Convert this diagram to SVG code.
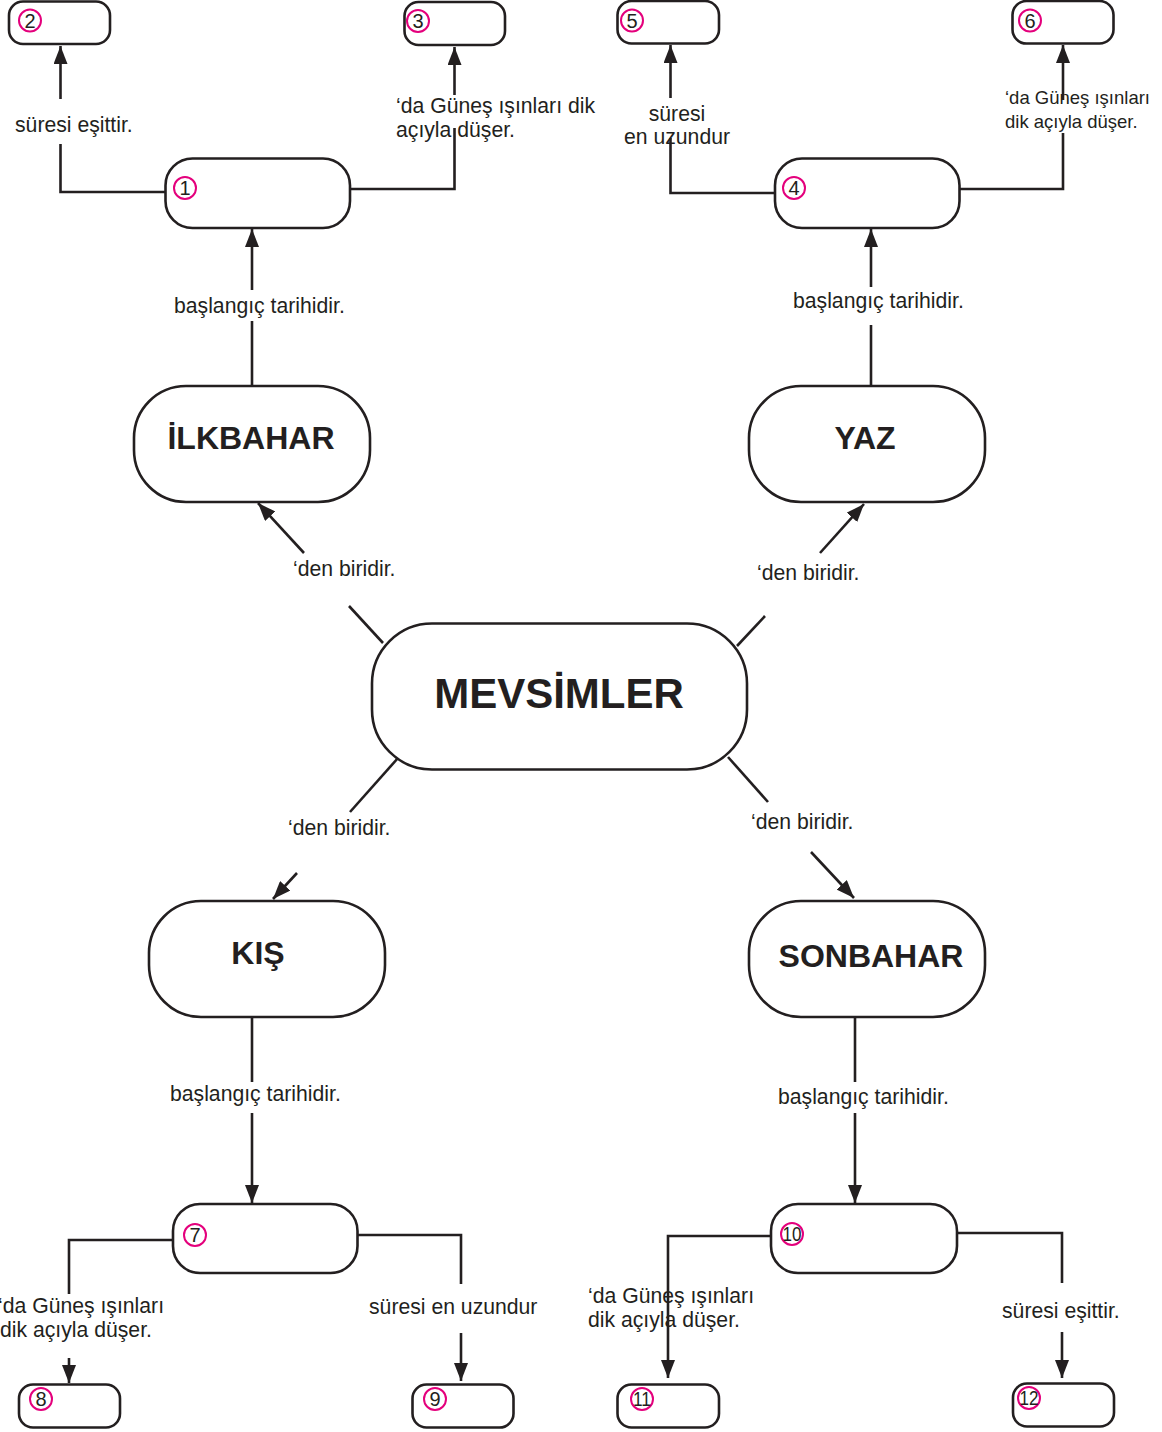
<svg xmlns="http://www.w3.org/2000/svg" width="1162" height="1432" viewBox="0 0 1162 1432">
<style>
.box{fill:#fff;stroke:#231f20;stroke-width:2.6}
.num{fill:none;stroke:#e4007c;stroke-width:2}
.nt{font-family:"Liberation Sans",Arial,sans-serif;font-size:20px;fill:#231f20;text-anchor:middle}
.lbl{font-family:"Liberation Sans",Arial,sans-serif;font-size:21.2px;fill:#231f20}
.sm{font-size:18.5px}
.ttl{font-family:"Liberation Sans",Arial,sans-serif;font-weight:bold;font-size:32px;fill:#231f20;text-anchor:middle}
.cn{fill:none;stroke:#231f20;stroke-width:2.6}
.ar{marker-end:url(#ah)}
</style>
<defs>
<marker id="ah" viewBox="0 0 18 14" refX="18" refY="7" markerWidth="18" markerHeight="14" orient="auto" markerUnits="userSpaceOnUse">
<path d="M0,0 L18,7 L0,14 z" fill="#231f20"/>
</marker>
</defs>
<rect width="1162" height="1432" fill="#fff"/>

<g id="connectors">
<line class="cn" x1="252" y1="386" x2="252" y2="321"/>
<line class="cn ar" x1="252" y1="290" x2="252" y2="229"/>
<line class="cn" x1="871" y1="387" x2="871" y2="325"/>
<line class="cn ar" x1="871" y1="287" x2="871" y2="229"/>
<polyline class="cn" points="165,192 60.5,192 60.5,144"/>
<line class="cn ar" x1="60.5" y1="99" x2="60.5" y2="46"/>
<polyline class="cn" points="350,189 454.5,189 454.5,128"/>
<line class="cn ar" x1="454.5" y1="95" x2="454.5" y2="47"/>
<polyline class="cn" points="775,193 670.5,193 670.5,138"/>
<line class="cn ar" x1="670.5" y1="98" x2="670.5" y2="45"/>
<polyline class="cn" points="960,189 1063,189 1063,133"/>
<line class="cn ar" x1="1063" y1="100" x2="1063" y2="45"/>
<line class="cn" x1="383" y1="643" x2="349" y2="606"/>
<line class="cn ar" x1="304" y1="553" x2="258" y2="503"/>
<line class="cn" x1="737" y1="646" x2="765" y2="616"/>
<line class="cn ar" x1="820" y1="553" x2="864" y2="504"/>
<line class="cn" x1="398" y1="758" x2="350" y2="812"/>
<line class="cn ar" x1="297" y1="873" x2="273" y2="899"/>
<line class="cn" x1="728" y1="757" x2="768" y2="802"/>
<line class="cn ar" x1="811" y1="852" x2="854" y2="898"/>
<line class="cn" x1="252" y1="1017" x2="252" y2="1082"/>
<line class="cn ar" x1="252" y1="1113" x2="252" y2="1203"/>
<line class="cn" x1="855" y1="1017" x2="855" y2="1082"/>
<line class="cn ar" x1="855" y1="1113" x2="855" y2="1203"/>
<polyline class="cn" points="173,1240 69,1240 69,1294"/>
<line class="cn ar" x1="69" y1="1358" x2="69" y2="1383"/>
<polyline class="cn" points="358,1235 461,1235 461,1284"/>
<line class="cn ar" x1="461" y1="1333" x2="461" y2="1381"/>
<polyline class="cn ar" points="771,1236 668,1236 668,1378"/>
<polyline class="cn" points="957,1233 1062,1233 1062,1283"/>
<line class="cn ar" x1="1062" y1="1332" x2="1062" y2="1378"/>
</g>

<g id="labels">
<text class="lbl" x="15" y="132">süresi eşittir.</text>
<text class="lbl" x="396" y="113">‘da Güneş ışınları dik</text>
<text class="lbl" x="396" y="137">açıyla düşer.</text>
<text class="lbl" x="174" y="313">başlangıç tarihidir.</text>
<text class="lbl" x="677" y="121" text-anchor="middle">süresi</text>
<text class="lbl" x="677" y="144" text-anchor="middle">en uzundur</text>
<text class="lbl sm" x="1005" y="104">‘da Güneş ışınları</text>
<text class="lbl sm" x="1005" y="128">dik açıyla düşer.</text>
<text class="lbl" x="793" y="308">başlangıç tarihidir.</text>
<text class="lbl" x="293" y="576">‘den biridir.</text>
<text class="lbl" x="757" y="580">‘den biridir.</text>
<text class="lbl" x="288" y="835">‘den biridir.</text>
<text class="lbl" x="751" y="829">‘den biridir.</text>
<text class="lbl" x="170" y="1101">başlangıç tarihidir.</text>
<text class="lbl" x="778" y="1104">başlangıç tarihidir.</text>
<text class="lbl" x="-2" y="1313">‘da Güneş ışınları</text>
<text class="lbl" x="0" y="1337">dik açıyla düşer.</text>
<text class="lbl" x="369" y="1314">süresi en uzundur</text>
<text class="lbl" x="588" y="1303">‘da Güneş ışınları</text>
<text class="lbl" x="588" y="1327">dik açıyla düşer.</text>
<text class="lbl" x="1002" y="1318">süresi eşittir.</text>
</g>

<g id="node-mevsimler">
<rect class="box" x="372" y="623.5" width="375" height="146" rx="60"/>
<text class="ttl" x="559" y="708" style="font-size:42px">MEVSİMLER</text>
</g>
<g id="node-ilkbahar">
<rect class="box" x="134" y="386" width="236" height="116" rx="52"/>
<text class="ttl" x="251" y="449">İLKBAHAR</text>
</g>
<g id="node-yaz">
<rect class="box" x="749" y="386" width="236" height="116" rx="52"/>
<text class="ttl" x="865" y="449">YAZ</text>
</g>
<g id="node-kis">
<rect class="box" x="149" y="901" width="236" height="116" rx="52"/>
<text class="ttl" x="258" y="964">KIŞ</text>
</g>
<g id="node-sonbahar">
<rect class="box" x="749" y="901" width="236" height="116" rx="52"/>
<text class="ttl" x="871" y="967">SONBAHAR</text>
</g>

<g id="node-1">
<rect class="box" x="165.5" y="158.5" width="184.5" height="69.5" rx="27"/>
<circle class="num" cx="185" cy="188" r="11"/>
<text class="nt" x="185" y="195">1</text>
</g>
<g id="node-2">
<rect class="box" x="9" y="1.5" width="101" height="42.5" rx="14"/>
<circle class="num" cx="30" cy="20.5" r="11"/>
<text class="nt" x="30" y="27.5">2</text>
</g>
<g id="node-3">
<rect class="box" x="404.5" y="2" width="100.5" height="43" rx="14"/>
<circle class="num" cx="418" cy="21" r="11"/>
<text class="nt" x="418" y="28">3</text>
</g>
<g id="node-4">
<rect class="box" x="775" y="158.5" width="184.5" height="69.5" rx="27"/>
<circle class="num" cx="794" cy="188" r="11"/>
<text class="nt" x="794" y="195">4</text>
</g>
<g id="node-5">
<rect class="box" x="617.5" y="1" width="101.5" height="42.5" rx="14"/>
<circle class="num" cx="632" cy="20.5" r="11"/>
<text class="nt" x="632" y="27.5">5</text>
</g>
<g id="node-6">
<rect class="box" x="1012.5" y="1" width="101" height="42.5" rx="14"/>
<circle class="num" cx="1030" cy="20.5" r="11"/>
<text class="nt" x="1030" y="27.5">6</text>
</g>
<g id="node-7">
<rect class="box" x="173" y="1204" width="184.5" height="69" rx="27"/>
<circle class="num" cx="195" cy="1235" r="11"/>
<text class="nt" x="195" y="1242">7</text>
</g>
<g id="node-8">
<rect class="box" x="19" y="1384.5" width="101" height="43" rx="14"/>
<circle class="num" cx="41" cy="1399" r="11"/>
<text class="nt" x="41" y="1406">8</text>
</g>
<g id="node-9">
<rect class="box" x="412.5" y="1384.5" width="101" height="43" rx="14"/>
<circle class="num" cx="435" cy="1399" r="11"/>
<text class="nt" x="435" y="1406">9</text>
</g>
<g id="node-10">
<rect class="box" x="771" y="1204" width="186" height="69" rx="27"/>
<circle class="num" cx="792" cy="1234" r="11"/>
<text class="nt" x="792" y="1241" textLength="19" lengthAdjust="spacingAndGlyphs">10</text>
</g>
<g id="node-11">
<rect class="box" x="617.5" y="1384.5" width="101.5" height="43" rx="14"/>
<circle class="num" cx="642" cy="1399" r="11"/>
<text class="nt" x="642" y="1406" textLength="18" lengthAdjust="spacingAndGlyphs">11</text>
</g>
<g id="node-12">
<rect class="box" x="1013" y="1383.5" width="101" height="43" rx="14"/>
<circle class="num" cx="1029" cy="1398" r="11"/>
<text class="nt" x="1029" y="1405" textLength="19" lengthAdjust="spacingAndGlyphs">12</text>
</g>
</svg>
